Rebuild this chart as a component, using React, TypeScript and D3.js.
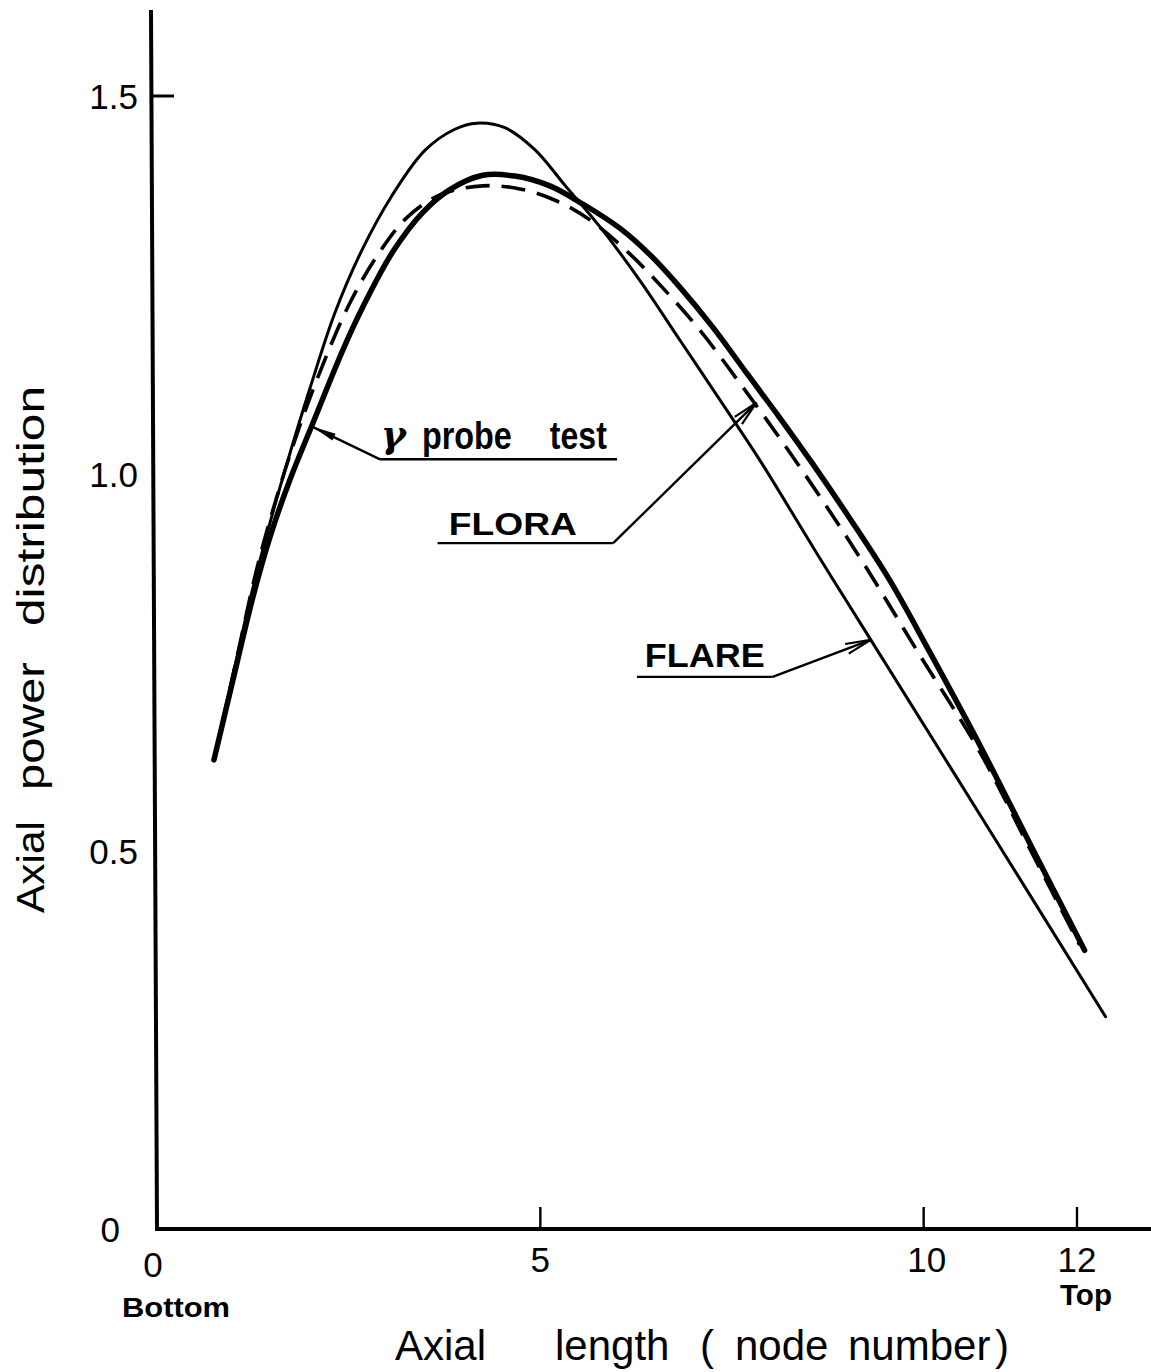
import React from "react";
import * as d3 from "d3";

// Axial power distribution along the core (node number 0 = bottom, 12 = top)
const flareX = [0.743, 0.978, 1.213, 1.447, 1.708, 1.995, 2.321, 2.673, 3.064, 3.494, 3.885, 4.172, 4.537, 4.928, 5.319, 5.776, 6.297, 6.819, 7.34, 7.862, 8.579, 9.335, 10.86, 12.373];
const flareY = [0.621, 0.727, 0.833, 0.925, 1.018, 1.113, 1.213, 1.296, 1.368, 1.428, 1.456, 1.464, 1.458, 1.429, 1.382, 1.327, 1.256, 1.177, 1.098, 1.018, 0.899, 0.776, 0.528, 0.281];

const probeX = [0.743, 0.991, 1.252, 1.473, 1.734, 2.034, 2.425, 2.686, 3.077, 3.468, 3.82, 4.25, 4.668, 5.124, 5.554, 6.036, 6.428, 6.819, 7.249, 7.692, 8.123, 8.553, 9.035, 9.557, 10.078, 10.73, 11.382, 12.099];
const probeY = [0.621, 0.727, 0.837, 0.916, 0.992, 1.067, 1.164, 1.221, 1.294, 1.346, 1.376, 1.395, 1.394, 1.381, 1.357, 1.325, 1.29, 1.247, 1.194, 1.133, 1.074, 1.013, 0.941, 0.859, 0.764, 0.641, 0.511, 0.369];

const floraX = [0.743, 1.03, 1.304, 1.565, 1.864, 2.19, 2.516, 2.868, 3.259, 3.69, 4.25, 4.733, 5.215, 5.645, 6.167, 6.597, 7.08, 7.601, 8.123, 8.644, 9.205, 9.948, 10.73, 11.382, 12.034];
const floraY = [0.621, 0.751, 0.875, 0.97, 1.064, 1.151, 1.226, 1.288, 1.339, 1.369, 1.381, 1.377, 1.361, 1.336, 1.291, 1.246, 1.19, 1.12, 1.047, 0.97, 0.883, 0.76, 0.632, 0.504, 0.376];

const yTickValues = [0, 0.5, 1.0, 1.5];
const yTickLabels = ["0", "0.5", "1.0", "1.5"];
const xTickValues = [0, 5, 10, 12];
const xTickLabels = ["0", "5", "10", "12"];

const W = 1151;
const H = 1372;

const x = d3.scaleLinear().domain([0, 12]).range([157, 1077]);
const y = d3.scaleLinear().domain([0, 1.5]).range([1229, 96]);

const line = d3
  .line<[number, number]>()
  .x((d) => x(d[0]))
  .y((d) => y(d[1]))
  .curve(d3.curveCatmullRom.alpha(0.5));

const zip = (xs: number[], ys: number[]) => xs.map((v, i) => [v, ys[i]] as [number, number]);

const FONT = "'Liberation Sans', Arial, sans-serif";

function Arrow({ from, to, filled }: { from: [number, number]; to: [number, number]; filled?: boolean }) {
  const x1 = x(from[0]);
  const y1 = y(from[1]);
  const x2 = x(to[0]);
  const y2 = y(to[1]);
  const ang = Math.atan2(y2 - y1, x2 - x1);
  const len = filled ? 24 : 26;
  const spread = filled ? 0.16 : 0.2;
  const ax = x2 - len * Math.cos(ang - spread);
  const ay = y2 - len * Math.sin(ang - spread);
  const bx = x2 - len * Math.cos(ang + spread);
  const by = y2 - len * Math.sin(ang + spread);
  return (
    <g>
      <line x1={x1} y1={y1} x2={x2} y2={y2} stroke="#000" strokeWidth={2.4} />
      {filled ? (
        <path d={`M${x2},${y2}L${ax},${ay}L${bx},${by}Z`} fill="#000" />
      ) : (
        <path d={`M${ax},${ay}L${x2},${y2}L${bx},${by}`} fill="none" stroke="#000" strokeWidth={2.2} />
      )}
    </g>
  );
}

export default function App() {
  const axisTop = y(1.614);
  return (
    <svg
      width={W}
      height={H}
      viewBox={`0 0 ${W} ${H}`}
      style={{ position: "absolute", left: 0, top: 0, background: "#fff" }}
    >
      <rect x={0} y={0} width={W} height={H} fill="#fff" />

      {/* axes */}
      <line x1={x(0) - 6} y1={axisTop} x2={x(0)} y2={y(0)} stroke="#000" strokeWidth={4} />
      <line x1={x(0) - 2} y1={y(0)} x2={W} y2={y(0)} stroke="#000" strokeWidth={4} />

      {/* y tick at 1.5 */}
      <line x1={x(0) - 5} y1={y(1.5)} x2={x(0) + 17} y2={y(1.5)} stroke="#000" strokeWidth={3} />
      {xTickValues
        .filter((v) => v > 0)
        .map((v) => (
          <line key={v} x1={x(v)} y1={y(0)} x2={x(v)} y2={y(0) - 22} stroke="#000" strokeWidth={2.4} />
        ))}

      {/* y tick labels */}
      {yTickValues.map((v, i) => (
        <text
          key={v}
          x={v === 0 ? 120 : 138}
          y={y(v) + 13}
          textAnchor="end"
          fontFamily={FONT}
          fontSize={35}
          fill="#000"
        >
          {yTickLabels[i]}
        </text>
      ))}

      {/* x tick labels */}
      {xTickValues.map((v, i) => (
        <text
          key={v}
          x={x(v) + (v === 0 ? -4 : v === 10 ? 3 : 0)}
          y={y(0) + (v === 0 ? 48 : 43)}
          textAnchor="middle"
          fontFamily={FONT}
          fontSize={35}
          fill="#000"
        >
          {xTickLabels[i]}
        </text>
      ))}
      <text x={122} y={1317} fontFamily={FONT} fontWeight="bold" fontSize={28} textLength={108} lengthAdjust="spacingAndGlyphs">
        Bottom
      </text>
      <text x={1060} y={1305} fontFamily={FONT} fontWeight="bold" fontSize={30} textLength={52} lengthAdjust="spacingAndGlyphs">
        Top
      </text>

      {/* axis titles */}
      <text fontFamily={FONT} fontSize={42} y={1360} fill="#000">
        <tspan x={395}>Axial</tspan>
        <tspan x={555}>length</tspan>
        <tspan x={700}>(</tspan>
        <tspan x={735}>node</tspan>
        <tspan x={848}>number</tspan>
        <tspan x={995}>)</tspan>
      </text>
      <g transform="translate(44,0) rotate(-90)">
        <text x={-913} y={0} fontFamily={FONT} fontSize={38} textLength={92} lengthAdjust="spacingAndGlyphs">
          Axial
        </text>
        <text x={-790} y={0} fontFamily={FONT} fontSize={38} textLength={128} lengthAdjust="spacingAndGlyphs">
          power
        </text>
        <text x={-626} y={0} fontFamily={FONT} fontSize={38} textLength={240} lengthAdjust="spacingAndGlyphs">
          distribution
        </text>
      </g>

      {/* curves */}
      <path d={line(zip(flareX, flareY)) || ""} fill="none" stroke="#000" strokeWidth={3} strokeLinecap="round" />
      <path
        d={line(zip(floraX, floraY)) || ""}
        fill="none"
        stroke="#000"
        strokeWidth={3.6}
        strokeDasharray="24 12"
      />
      <path d={line(zip(probeX, probeY)) || ""} fill="none" stroke="#000" strokeWidth={5.5} strokeLinecap="round" />

      {/* γ probe test label */}
      <line x1={x(2.91)} y1={y(1.019)} x2={x(6.0)} y2={y(1.019)} stroke="#000" strokeWidth={2.4} />
      <Arrow from={[2.91, 1.019]} to={[2.03, 1.062]} filled />
      <text
        x={x(2.92)}
        y={y(1.035)}
        fontFamily="'DejaVu Serif', serif"
        fontStyle="italic"
        fontWeight="bold"
        fontSize={38}
        fill="#000"
      >
        γ
      </text>
      <text x={x(3.455)} y={y(1.033)} fontFamily={FONT} fontWeight="bold" fontSize={38} textLength={90} lengthAdjust="spacingAndGlyphs">
        probe
      </text>
      <text x={x(5.124)} y={y(1.033)} fontFamily={FONT} fontWeight="bold" fontSize={38} textLength={57} lengthAdjust="spacingAndGlyphs">
        test
      </text>

      {/* FLORA label */}
      <line x1={x(3.66)} y1={y(0.908)} x2={x(5.95)} y2={y(0.908)} stroke="#000" strokeWidth={2.4} />
      <Arrow from={[5.95, 0.908]} to={[7.82, 1.094]} />
      <text x={x(3.807)} y={y(0.919)} fontFamily={FONT} fontWeight="bold" fontSize={32} textLength={128} lengthAdjust="spacingAndGlyphs">
        FLORA
      </text>

      {/* FLARE label */}
      <line x1={x(6.26)} y1={y(0.731)} x2={x(8.03)} y2={y(0.731)} stroke="#000" strokeWidth={2.4} />
      <Arrow from={[8.03, 0.731]} to={[9.31, 0.78]} />
      <text x={x(6.362)} y={y(0.744)} fontFamily={FONT} fontWeight="bold" fontSize={33} textLength={120} lengthAdjust="spacingAndGlyphs">
        FLARE
      </text>
    </svg>
  );
}
